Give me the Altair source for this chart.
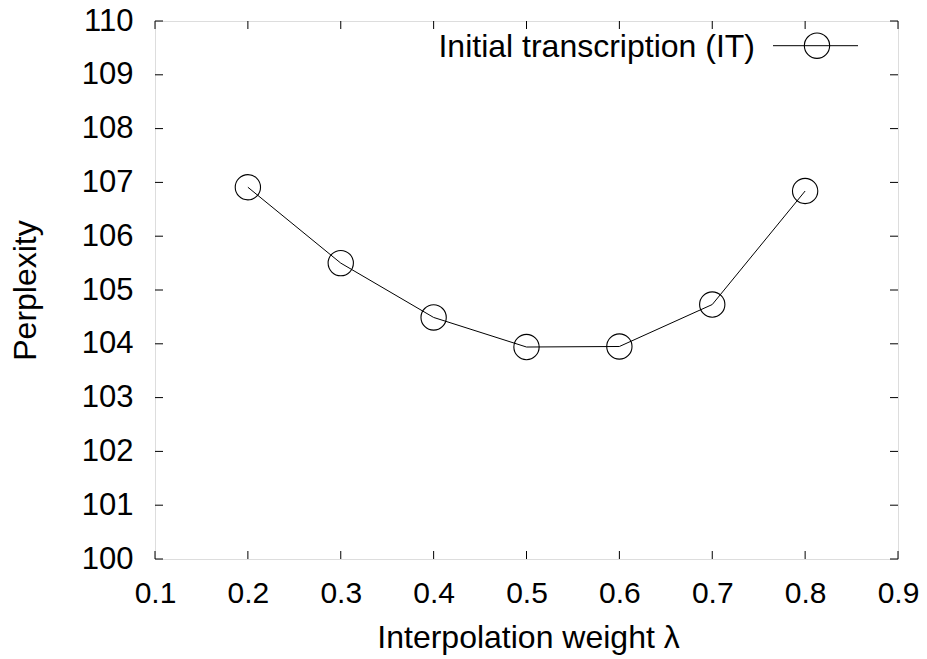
import altair as alt
import pandas as pd

# Data
weights = [0.2, 0.3, 0.4, 0.5, 0.6, 0.7, 0.8]
perplexity = [106.91, 105.50, 104.49, 103.94, 103.95, 104.73, 106.84]
series_name = "Initial transcription (IT)"

x_ticks = [0.1, 0.2, 0.3, 0.4, 0.5, 0.6, 0.7, 0.8, 0.9]
y_ticks = [100, 101, 102, 103, 104, 105, 106, 107, 108, 109, 110]

W, H = 743, 538
FONT = "Liberation Sans"
TICK = 8

df = pd.DataFrame({"x": weights, "y": perplexity})
xt = pd.DataFrame({"x": x_ticks})
yt = pd.DataFrame({"y": y_ticks})
leg = pd.DataFrame({"label": [series_name]})

xscale = alt.Scale(domain=[0.1, 0.9], nice=False, zero=False)
yscale = alt.Scale(domain=[100, 110], nice=False, zero=False)

x_axis = alt.Axis(
    values=x_ticks, format=".1f", domain=False, ticks=False, grid=False,
    labelFont=FONT, labelFontSize=30, labelColor="black", labelPadding=19,
    labelFlush=False, labelOverlap=False,
    title="Interpolation weight λ", titleFont=FONT, titleFontSize=32,
    titleFontWeight="normal", titleColor="black",
    titleX=373, titleY=88, titleAlign="center", titleBaseline="alphabetic",
)
y_axis = alt.Axis(
    values=y_ticks, format="d", domain=False, ticks=False, grid=False,
    labelFont=FONT, labelFontSize=31, labelColor="black", labelPadding=22,
    labelFlush=False, labelOverlap=False, labelBaseline="middle",
    title="Perplexity", titleFont=FONT, titleFontSize=32,
    titleFontWeight="normal", titleColor="black",
    titleX=-120, titleY=269, titleAngle=-90, titleAlign="center",
    titleBaseline="alphabetic",
)

X = alt.X("x:Q", scale=xscale, axis=x_axis)
Y = alt.Y("y:Q", scale=yscale, axis=y_axis)

line = alt.Chart(df).mark_line(color="black", strokeWidth=1).encode(x=X, y=Y)
points = alt.Chart(df).mark_point(
    shape="circle", filled=False, color="black", size=640, strokeWidth=1.1, opacity=1
).encode(x=X, y=Y)

# inward ticks on all four sides (gnuplot style)
ytick_left = alt.Chart(yt).mark_rule(color="black", strokeWidth=1).encode(
    y=Y, x=alt.value(0), x2=alt.value(TICK))
ytick_right = alt.Chart(yt).mark_rule(color="black", strokeWidth=1).encode(
    y=Y, x=alt.value(W - TICK), x2=alt.value(W))
xtick_bottom = alt.Chart(xt).mark_rule(color="black", strokeWidth=1).encode(
    x=X, y=alt.value(H - TICK), y2=alt.value(H))
xtick_top = alt.Chart(xt).mark_rule(color="black", strokeWidth=1).encode(
    x=X, y=alt.value(0), y2=alt.value(TICK))

# legend (top right, gnuplot style: label then sample)
leg_text = alt.Chart(leg).mark_text(
    font=FONT, fontSize=32, align="right", baseline="alphabetic", color="black"
).encode(text="label:N", x=alt.value(600), y=alt.value(36))
leg_line = alt.Chart(leg).mark_rule(color="black", strokeWidth=1).encode(
    x=alt.value(618), x2=alt.value(703), y=alt.value(24.7))
leg_point = alt.Chart(leg).mark_point(
    shape="circle", filled=False, color="black", size=640, strokeWidth=1.1, opacity=1
).encode(x=alt.value(662), y=alt.value(24.7))

chart = alt.layer(
    ytick_left, ytick_right, xtick_bottom, xtick_top,
    line, points, leg_line, leg_point, leg_text,
).properties(
    width=W, height=H,
    autosize=alt.AutoSizeParams(type="none"),
    padding={"left": 147, "top": 13, "right": 21, "bottom": 100},
).configure_view(
    stroke="black", strokeWidth=1
).configure(background="white")

chart.save("out.html", embed_options={"renderer": "svg", "actions": False})
